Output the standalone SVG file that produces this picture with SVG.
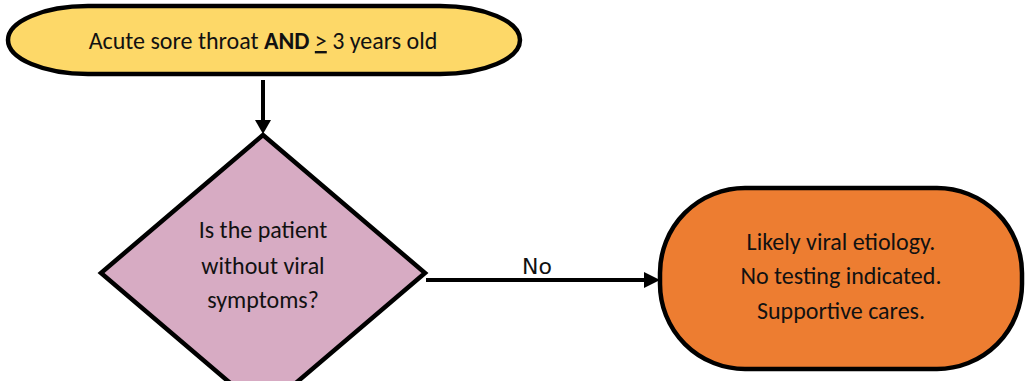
<svg xmlns="http://www.w3.org/2000/svg" width="1035" height="381" viewBox="0 0 1035 381">
<defs>
<style>
.node{stroke:#000;stroke-width:4.5}
.t{font-family:Carlito,"Open Sans","Liberation Sans",sans-serif;font-size:24px;fill:#111;text-anchor:middle}
.lbl{font-family:"DejaVu Sans",sans-serif;font-size:22px;fill:#111;text-anchor:middle}
.c{stroke:#000;stroke-width:4;fill:none}
</style>
</defs>
<rect width="1035" height="381" fill="#fff"/>
<g id="connectors">
<line class="c" x1="263" y1="80" x2="263" y2="124"/>
<path d="M255,120 L271,120 L263,134 z" fill="#000"/>
<line class="c" x1="426" y1="280" x2="648" y2="280"/>
<path d="M644,272 L660,280 L644,288 z" fill="#000"/>
<text class="lbl" x="537" y="274">No</text>
</g>
<g id="start">
<rect class="node" x="8" y="6" width="512" height="68" rx="80" ry="34" fill="#FDD868"/>
<text class="t" x="263" y="49">Acute sore throat <tspan font-weight="bold">AND</tspan> <tspan text-decoration="underline">&gt;</tspan> 3 years old</text>
</g>
<g id="decision">
<path class="node" d="M263,135 L425,273 L263,411 L101,273 z" fill="#D7ABC3"/>
<text class="t" x="263" y="238">Is the patient</text>
<text class="t" x="263" y="274">without viral</text>
<text class="t" x="263" y="308">symptoms?</text>
</g>
<g id="viral">
<rect class="node" x="660" y="188" width="362" height="181" rx="85" ry="85" fill="#ED7D31"/>
<text class="t" x="841" y="250">Likely viral etiology.</text>
<text class="t" x="841" y="284">No testing indicated.</text>
<text class="t" x="841" y="319">Supportive cares.</text>
</g>
</svg>
